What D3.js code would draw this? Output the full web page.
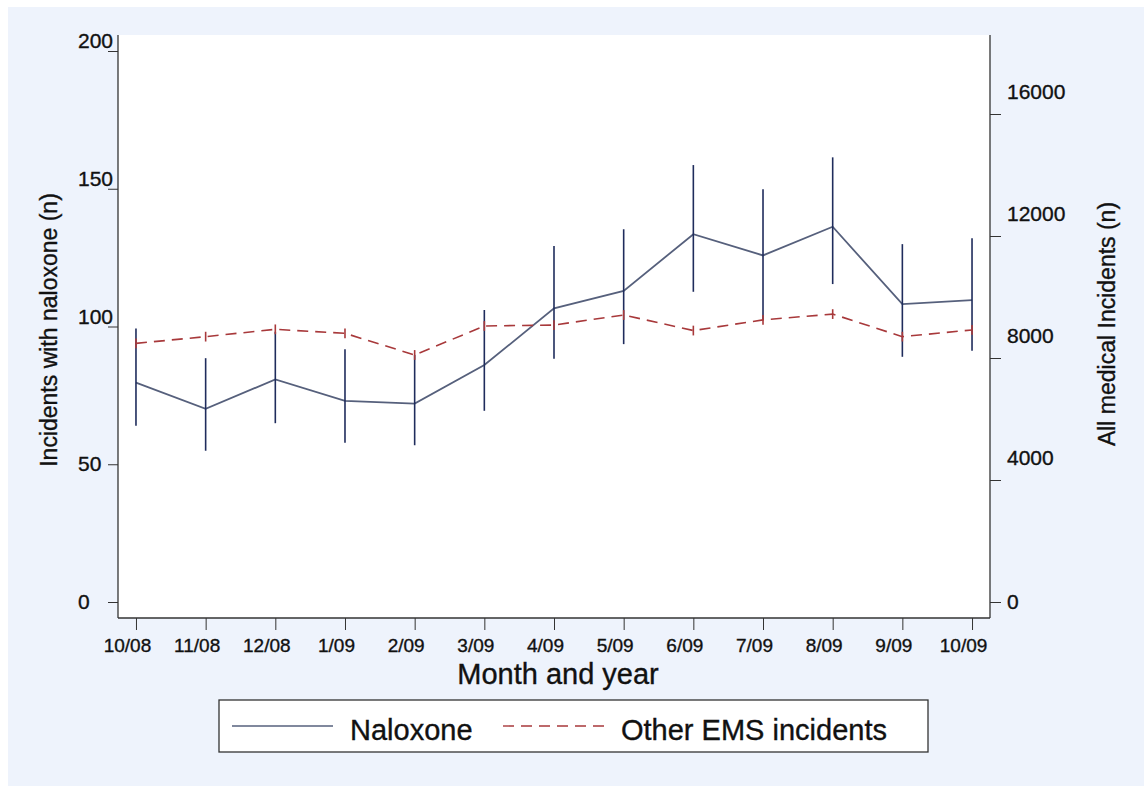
<!DOCTYPE html>
<html>
<head>
<meta charset="utf-8">
<script src="https://cdn.jsdelivr.net/npm/d3@7"></script>
<style>
  body { margin: 0; background: #fff; }
  svg { display: block; font-family: "Liberation Sans", Arial, sans-serif; }
  svg text { stroke: #111; stroke-width: 0.35px; }
</style>
</head>
<body>
<svg id="chart"></svg>
<script>
// Month labels on the x axis
const months = ["10/08", "11/08", "12/08", "1/09", "2/09", "3/09", "4/09",
  "5/09", "6/09", "7/09", "8/09", "9/09", "10/09"];

// Naloxone incidents (left axis) with confidence limits
const naloxone = [79.6, 70.1, 80.8, 73.0, 72.0, 86.0, 106.6, 112.9, 133.5, 125.8, 136.2, 108.1, 109.6];
const naloxoneLow = [64.0, 54.9, 64.9, 57.8, 56.9, 69.4, 88.3, 93.6, 112.6, 102.4, 115.4, 89.0, 91.2];
const naloxoneHigh = [99.3, 88.5, 98.1, 91.7, 89.7, 106.0, 129.2, 135.3, 158.6, 149.8, 161.4, 129.9, 132.0];

// Other EMS incidents (right axis) with confidence limits
const otherEms = [8480, 8700, 8940, 8810, 8100, 9050, 9080, 9410, 8900, 9250, 9440, 8700, 8920];
const otherLow = [8320, 8540, 8780, 8650, 7940, 8890, 8920, 9250, 8740, 9090, 9280, 8540, 8760];
const otherHigh = [8640, 8860, 9100, 8970, 8260, 9210, 9240, 9570, 9060, 9410, 9600, 8860, 9080];

// Tick values
const leftTicks = [0, 50, 100, 150, 200];
const rightTicks = [0, 4000, 8000, 12000, 16000];

const width = 1144;
const height = 786;
const plot = { left: 118, right: 990, top: 35, bottom: 618 };

const navy = "#1f2c5c";
const slate = "#56607c";
const red = "#a8393b";
const ink = "#111";

const svg = d3.select("#chart")
  .attr("width", width)
  .attr("height", height);

svg.append("rect")
  .attr("x", 8).attr("y", 7)
  .attr("width", width - 8).attr("height", height - 7)
  .attr("fill", "#eef3fc");

svg.append("rect")
  .attr("x", plot.left).attr("y", plot.top)
  .attr("width", plot.right - plot.left).attr("height", plot.bottom - plot.top)
  .attr("fill", "#fff");

const x = d3.scalePoint()
  .domain(months)
  .range([plot.left, plot.right])
  .padding(0.258);

const yLeft = d3.scaleLinear().domain([0, 200]).range([602, 51]);
const yRight = d3.scaleLinear().domain([0, 16000]).range([602, 114]);

// frame lines: left, bottom, right
const frame = svg.append("g").attr("stroke", "#333").attr("stroke-width", 1.3);
frame.append("line").attr("x1", plot.left).attr("x2", plot.left).attr("y1", plot.top).attr("y2", plot.bottom);
frame.append("line").attr("x1", plot.left).attr("x2", plot.right).attr("y1", plot.bottom).attr("y2", plot.bottom);
frame.append("line").attr("x1", plot.right).attr("x2", plot.right).attr("y1", plot.top).attr("y2", plot.bottom);

// bottom axis
const xAxis = svg.append("g")
  .attr("transform", `translate(0,${plot.bottom})`)
  .call(d3.axisBottom(x).tickSize(12).tickPadding(9).tickSizeOuter(0));
xAxis.select(".domain").remove();
xAxis.selectAll("line").attr("stroke", "#333");
xAxis.selectAll("text")
  .attr("x", -9)
  .attr("fill", ink)
  .style("font-size", "19px");

// left axis
const leftAxis = svg.append("g")
  .attr("transform", `translate(${plot.left},0)`)
  .call(d3.axisLeft(yLeft).tickValues(leftTicks).tickSize(10).tickSizeOuter(0));
leftAxis.select(".domain").remove();
leftAxis.selectAll("line").attr("stroke", "#333");
leftAxis.selectAll("text")
  .attr("x", -40)
  .attr("text-anchor", "start")
  .attr("fill", ink)
  .attr("transform", (d) => `translate(0,${d >= 100 ? -10 : 0})`)
  .style("font-size", "21px");

// right axis
const rightAxis = svg.append("g")
  .attr("transform", `translate(${plot.right},0)`)
  .call(d3.axisRight(yRight).tickValues(rightTicks).tickSize(11).tickSizeOuter(0).tickFormat(d3.format("d")));
rightAxis.select(".domain").remove();
rightAxis.selectAll("line").attr("stroke", "#333");
rightAxis.selectAll("text")
  .attr("x", 17)
  .attr("fill", ink)
  .attr("transform", (d) => `translate(0,${d === 0 ? 0 : -22})`)
  .style("font-size", "21px");

// axis titles
svg.append("text")
  .attr("transform", "translate(57,330) rotate(-90)")
  .attr("text-anchor", "middle")
  .attr("fill", ink)
  .style("font-size", "23px")
  .text("Incidents with naloxone (n)");

svg.append("text")
  .attr("transform", "translate(1115,324) rotate(-90)")
  .attr("text-anchor", "middle")
  .attr("fill", ink)
  .style("font-size", "23px")
  .text("All medical Incidents (n)");

svg.append("text")
  .attr("x", 558)
  .attr("y", 684)
  .attr("text-anchor", "middle")
  .attr("fill", ink)
  .style("font-size", "29px")
  .text("Month and year");

// naloxone line + error bars
const lineLeft = d3.line()
  .x((d, i) => x(months[i]))
  .y((d) => yLeft(d));

svg.append("path")
  .datum(naloxone)
  .attr("fill", "none")
  .attr("stroke", slate)
  .attr("stroke-width", 1.8)
  .attr("d", lineLeft);

svg.selectAll(".bar-nal")
  .data(naloxone)
  .enter()
  .append("line")
  .attr("class", "bar-nal")
  .attr("x1", (d, i) => x(months[i]))
  .attr("x2", (d, i) => x(months[i]))
  .attr("y1", (d, i) => yLeft(naloxoneLow[i]))
  .attr("y2", (d, i) => yLeft(naloxoneHigh[i]))
  .attr("stroke", navy)
  .attr("stroke-width", 1.6);

// other EMS line + error bars
const lineRight = d3.line()
  .x((d, i) => x(months[i]))
  .y((d) => yRight(d));

svg.append("path")
  .datum(otherEms)
  .attr("fill", "none")
  .attr("stroke", red)
  .attr("stroke-width", 1.6)
  .attr("stroke-dasharray", "11,7")
  .attr("d", lineRight);

svg.selectAll(".bar-ems")
  .data(otherEms)
  .enter()
  .append("line")
  .attr("class", "bar-ems")
  .attr("x1", (d, i) => x(months[i]))
  .attr("x2", (d, i) => x(months[i]))
  .attr("y1", (d, i) => yRight(otherLow[i]))
  .attr("y2", (d, i) => yRight(otherHigh[i]))
  .attr("stroke", red)
  .attr("stroke-width", 1.6);

// legend
const legend = svg.append("g");
legend.append("rect")
  .attr("x", 219).attr("y", 700)
  .attr("width", 709).attr("height", 52)
  .attr("fill", "#fff")
  .attr("stroke", "#333")
  .attr("stroke-width", 1.3);

legend.append("line")
  .attr("x1", 232).attr("x2", 333).attr("y1", 726).attr("y2", 726)
  .attr("stroke", slate).attr("stroke-width", 1.6);
legend.append("text")
  .attr("x", 350).attr("y", 740)
  .attr("fill", ink)
  .style("font-size", "29px")
  .text("Naloxone");

legend.append("line")
  .attr("x1", 503).attr("x2", 607).attr("y1", 726).attr("y2", 726)
  .attr("stroke", red).attr("stroke-width", 1.4)
  .attr("stroke-dasharray", "11,7");
legend.append("text")
  .attr("x", 621).attr("y", 740)
  .attr("fill", ink)
  .style("font-size", "29px")
  .text("Other EMS incidents");
</script>
</body>
</html>
